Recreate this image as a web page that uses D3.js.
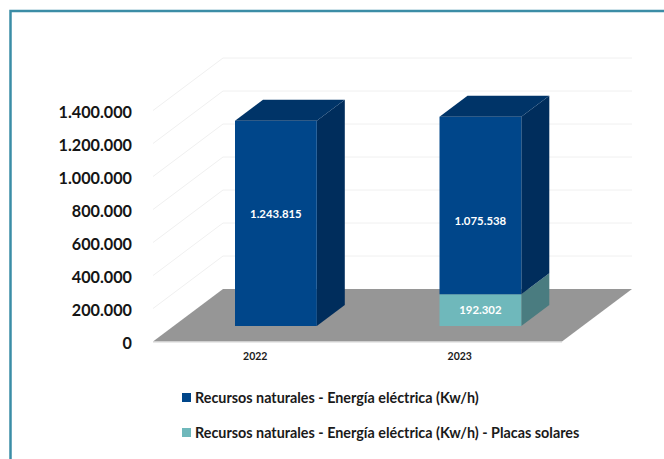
<!DOCTYPE html>
<html><head><meta charset="utf-8">
<script src="https://cdn.jsdelivr.net/npm/d3@7/dist/d3.min.js"></script>
<style>html,body{margin:0;padding:0;background:#fff}svg{display:block}text{font-family:Lato,"Open Sans",sans-serif;font-weight:700}</style>
</head><body><div id="chart"></div>
<script>
const categories = ["2022", "2023"];
const seriesNames = ["Recursos naturales - Energía eléctrica (Kw/h)", "Recursos naturales - Energía eléctrica (Kw/h) - Placas solares"];
const electrica = [1243815, 1075538];
const solares = [0, 192302];
const ticks = [0, 200000, 400000, 600000, 800000, 1000000, 1200000, 1400000];
const faceColors = ["#00468a", "#6fb8bb"];
const sideColors = ["#002d5c", "#4a7c80"];
const topColor = "#003468";

const W = 664, H = 459;
const svg = d3.select("#chart").append("svg").attr("width", W).attr("height", H);
const fmt = v => d3.format(",")(v).replace(/,/g, ".");

const x = d3.scaleBand().domain(categories).range([153, 562]).paddingInner(0.6).paddingOuter(0.3);
const y = d3.scaleLinear().domain([0, 1400000]).range([341.5, 110.5]);
const dx = d3.scaleLinear().domain([0, 1]).range([0, 70]);
const dy = d3.scaleLinear().domain([0, 1]).range([0, -52.5]);
const P = (px, v, d) => [px + dx(d), y(v) + dy(d)];
const poly = (pts, fill, g) => g.append("polygon").attr("points", pts.map(p => p.join(",")).join(" ")).attr("fill", fill);

// outer frame
svg.append("path").attr("d", `M${W},11 H10.5 V${H}`).attr("fill", "none").attr("stroke", "#3b8da6").attr("stroke-width", 2.5);

// floor
const [x0, x1] = x.range();
const walls = svg.append("g");
poly([P(x0, 0, 0), P(x1, 0, 0), P(x1, 0, 1), P(x0, 0, 1)], "#969696", walls);
walls.append("line").attr("x1", x0).attr("x2", x1).attr("y1", y(0) + .5).attr("y2", y(0) + .5).attr("stroke", "#d4d4d4").attr("stroke-width", 1);

// gridlines (side wall + back wall)
walls.selectAll("polyline.grid").data(ticks.slice(1)).join("polyline").attr("class", "grid")
  .attr("points", t => [P(x0, t, 0), P(x0, t, 1), P(x1, t, 1)].map(p => p.join(",")).join(" "))
  .attr("fill", "none").attr("stroke", "#f0f0f0").attr("stroke-width", 1);

// y tick labels
svg.selectAll("text.tick").data(ticks).join("text").attr("class", "tick")
  .attr("x", 132).attr("y", t => y(t) + 1.5).attr("dy", "0.35em").attr("text-anchor", "end")
  .attr("font-size", 16.2).attr("fill", "#151515").text(fmt);

// 3D bars
const dA = 0.295, dB = 0.695;
const labelShift = [[-9, 0], [15, 0]]; // per bar: main segment, solar segment
categories.forEach((c, i) => {
  const g = svg.append("g");
  const l = x(c), r = l + x.bandwidth();
  const stack = [[0, solares[i], 1], [solares[i], solares[i] + electrica[i], 0]].filter(s => s[1] > s[0]);
  stack.forEach(([a, b, k]) => {
    poly([P(r, a, dA), P(r, a, dB), P(r, b, dB), P(r, b, dA)], sideColors[k], g);
    poly([P(l, a, dA), P(r, a, dA), P(r, b, dA), P(l, b, dA)], faceColors[k], g);
    const val = k ? solares[i] : electrica[i];
    const c0 = P((l + r) / 2, (a + b) / 2, dA);
    g.append("text").attr("x", c0[0]).attr("y", c0[1] + labelShift[i][k]).attr("dy", "0.35em").attr("text-anchor", "middle")
      .attr("font-size", 11.4).attr("fill", "#fff").text(fmt(val));
  });
  const t = solares[i] + electrica[i];
  poly([P(l, t, dA), P(r, t, dA), P(r, t, dB), P(l, t, dB)], topColor, g);
  svg.append("text").attr("x", l + x.bandwidth() / 2).attr("y", 356.5).attr("dy", "0.35em").attr("text-anchor", "middle")
    .attr("font-size", 10.5).attr("fill", "#1a1a1a").text(c);
});

// legend
const legY = [397.5, 432.5];
seriesNames.forEach((n, i) => {
  svg.append("rect").attr("x", 182).attr("y", legY[i] - 4.5).attr("width", 9).attr("height", 9).attr("fill", faceColors[i]);
  svg.append("text").attr("x", 195).attr("y", legY[i]).attr("dy", "0.35em").attr("font-size", 14.35).attr("fill", "#1a1a1a").text(n);
});
</script></body></html>
